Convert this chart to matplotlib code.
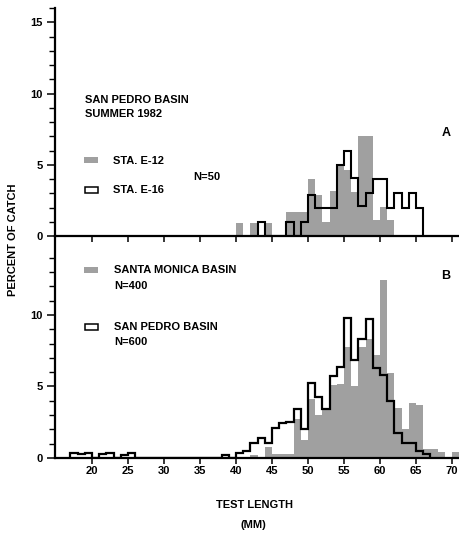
import matplotlib
matplotlib.use('Agg')
import numpy as np
import matplotlib.pyplot as plt
from matplotlib.ticker import FixedLocator
from matplotlib.patches import Rectangle

# --- data: percent of catch per 1 mm test-length class ---
# panel A, San Pedro Basin summer 1982
e12_start = 40
e12_pct = [0.9, 0, 0.9, 0, 0.9, 0, 0, 1.65, 1.65, 1.65, 4.0, 2.85, 0.95, 3.15,
           4.95, 4.6, 3.1, 7.05, 7.05, 1.1, 2.05, 1.1]
e16_start = 43
e16_pct = [0.95, 0, 0, 0, 1.0, 0, 1.0, 2.9, 2.0, 2.0, 2.0, 4.95, 5.95, 4.05,
           2.1, 3.0, 4.0, 4.0, 2.0, 3.0, 2.0, 3.0, 2.0]

# panel B
smb_start = 42
smb_pct = [0.2, 0, 0.75, 0.3, 0.3, 0.3, 2.7, 1.25, 4.15, 3.0, 3.43, 5.1, 5.2,
           7.74, 5.0, 7.74, 8.35, 7.2, 12.45, 5.92, 3.5, 2.0, 3.87, 3.7,
           0.65, 0.6, 0.45, 0, 0.44]
spb_start = 17
spb_pct = [0.35, 0.25, 0.35, 0, 0.25, 0.35, 0, 0.2, 0.35,
           0, 0, 0, 0, 0, 0, 0, 0, 0, 0, 0, 0,
           0.2, 0, 0.37, 0.52, 1.05, 1.42, 1.03, 2.1, 2.45, 2.5, 3.43, 2.0,
           5.22, 4.29, 3.43, 5.73, 6.35, 9.8, 6.87, 8.3, 9.7, 6.28, 5.83,
           3.97, 1.78, 1.05, 1.05, 0.5, 0.3]

x_ticks = list(range(20, 71, 5))

GRAY = '#a0a0a0'
W, H = 459, 533

plt.rcParams['font.family'] = ['Liberation Sans', 'DejaVu Sans']
plt.rcParams['font.weight'] = 'bold'
FS = 8


def edges(start, vals):
    return np.arange(start, start + len(vals) + 1)


def fx(x):
    return x / W


def fy(y):
    return 1 - y / H


fig = plt.figure(figsize=(W / 100, H / 100), dpi=100)
axA = fig.add_axes([fx(55), fy(236), 404 / W, 228 / H])
axB = fig.add_axes([fx(55), fy(458), 404 / W, 222 / H])

axA.stairs(e12_pct, edges(e12_start, e12_pct), fill=True, color=GRAY, lw=0)
axA.stairs(e16_pct, edges(e16_start, e16_pct), color='black', lw=1.5)
axB.stairs(smb_pct, edges(smb_start, smb_pct), fill=True, color=GRAY, lw=0)
axB.stairs(spb_pct, edges(spb_start, spb_pct), color='black', lw=1.6)

for ax in (axA, axB):
    ax.set_xlim(14.86, 70.97)
    ax.spines['top'].set_visible(False)
    ax.spines['right'].set_visible(False)
    ax.spines['left'].set_linewidth(1.6)
    ax.spines['bottom'].set_linewidth(1.6)
    ax.xaxis.set_major_locator(FixedLocator(x_ticks))
    ax.tick_params(axis='x', direction='out', length=4.5, width=1.1,
                   labelsize=FS, pad=1.5)
    ax.tick_params(axis='y', which='major', direction='out', length=6,
                   width=1.1, labelsize=FS, pad=3)
    ax.tick_params(axis='y', which='minor', direction='out', length=4,
                   width=1.0)
    ax.set_facecolor('none')

axA.set_ylim(0, 16)
axA.yaxis.set_major_locator(FixedLocator([0, 5, 10, 15]))
axA.yaxis.set_minor_locator(FixedLocator([v for v in range(1, 17) if v % 5]))
axA.tick_params(axis='x', labelbottom=False)

axB.set_ylim(0, 15.52)
axB.yaxis.set_major_locator(FixedLocator([0, 5, 10]))
axB.yaxis.set_minor_locator(FixedLocator([v for v in range(1, 15) if v % 5]))

for lab in axA.get_yticklabels() + axB.get_yticklabels() + axB.get_xticklabels():
    lab.set_fontweight('bold')


def txt(x, y, s, **kw):
    fig.text(fx(x), fy(y), s, fontsize=FS, fontweight='bold', va='center', **kw)


def key(y, filled):
    if filled:
        r = Rectangle((fx(84), fy(y + 3)), 14 / W, 6 / H, transform=fig.transFigure,
                      facecolor=GRAY, edgecolor='none')
    else:
        r = Rectangle((fx(85), fy(y + 3)), 13 / W, 6 / H, transform=fig.transFigure,
                      facecolor='none', edgecolor='black', lw=1.1)
    fig.patches.append(r)


# panel A annotations
txt(85, 100, 'SAN PEDRO BASIN')
txt(85, 114, 'SUMMER 1982')
key(160, True)
txt(113, 161, 'STA. E-12')
key(190, False)
txt(113, 190, 'STA. E-16')
txt(193, 177, 'N=50')
fig.text(fx(446), fy(133), 'A', fontsize=9, fontweight='bold', ha='center', va='center')

# panel B annotations
key(270, True)
txt(114, 270, 'SANTA MONICA BASIN')
txt(114, 286, 'N=400')
key(327, False)
txt(114, 327, 'SAN PEDRO BASIN')
txt(114, 342, 'N=600')
fig.text(fx(446), fy(276), 'B', fontsize=9, fontweight='bold', ha='center', va='center')

# axis titles
fig.text(fx(13), fy(240), 'PERCENT OF CATCH', fontsize=FS, fontweight='bold',
         rotation=90, ha='center', va='center')
fig.text(fx(255), fy(505), 'TEST LENGTH', fontsize=FS, fontweight='bold',
         ha='center', va='center')
fig.text(fx(253), fy(525), '(MM)', fontsize=FS, fontweight='bold',
         ha='center', va='center')

fig.savefig('out.png', dpi=100)
